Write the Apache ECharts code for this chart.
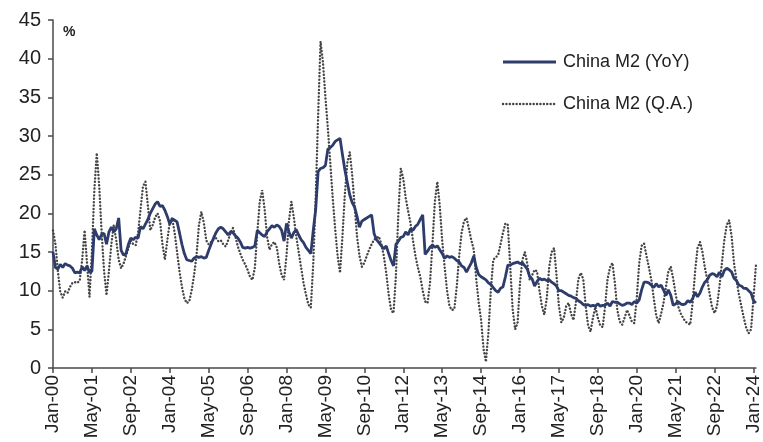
<!DOCTYPE html>
<html>
<head>
<meta charset="utf-8">
<style>
  html, body { margin: 0; padding: 0; background: #ffffff; }
  #chart { width: 763px; height: 442px; }
</style>
<script src="https://cdn.jsdelivr.net/npm/echarts@6/dist/echarts.min.js"></script>
</head>
<body>
<div id="chart"></div>
<script>
// Monthly axis labels, Jan-00 through Feb-24
const monthNames = ['Jan','Feb','Mar','Apr','May','Jun','Jul','Aug','Sep','Oct','Nov','Dec'];
const monthCount = 290;
const categories = [];
for (let i = 0; i < monthCount; i++) {
  const yy = String(Math.floor(i / 12)).padStart(2, '0');
  categories.push(monthNames[i % 12] + '-' + yy);
}

// China M2, year-on-year growth (%), one row per year
const m2YoY = [
  15.0, 13.0, 12.8, 13.4, 13.0, 13.5, 13.3, 13.2, 12.9, 12.3, 12.4, 12.3,
  13.1, 12.6, 13.2, 12.4, 12.5, 18.0, 17.2, 16.6, 17.3, 17.4, 16.0, 17.6,
  18.2, 17.6, 18.0, 19.4, 15.2, 14.6, 14.8, 16.0, 16.8, 16.6, 16.9, 16.8,
  18.3, 18.0, 18.6, 19.2, 20.0, 20.6, 21.2, 21.5, 20.9, 21.0, 20.4, 19.6,
  18.6, 19.3, 19.1, 18.9, 17.5, 16.0, 14.8, 14.0, 13.9, 13.8, 14.2, 14.4,
  14.3, 14.4, 14.2, 14.3, 15.2, 16.0, 16.8, 17.5, 18.0, 18.2, 18.0, 17.6,
  17.2, 17.6, 17.5, 17.1, 16.8, 16.3, 15.6, 15.5, 15.6, 15.5, 15.6, 15.8,
  17.8, 17.5, 17.2, 17.0, 17.6, 18.0, 18.4, 18.2, 18.5, 18.3, 17.8, 16.4,
  18.7, 17.6, 16.8, 17.5, 17.9, 17.2, 16.6, 16.2, 15.6, 15.2, 14.8, 17.8,
  20.5, 25.4, 25.8, 25.9, 26.2, 28.3, 28.5, 28.8, 29.3, 29.5, 29.7, 27.6,
  25.6, 24.0, 22.4, 21.4, 20.8, 19.6, 18.2, 19.0, 19.2, 19.4, 19.6, 19.8,
  17.4, 16.6, 16.2, 15.8, 15.4, 15.8, 14.8, 13.9, 13.2, 16.0, 16.4, 16.9,
  17.0, 17.6, 17.2, 18.0, 17.8, 18.3, 18.6, 19.2, 19.8, 14.7, 15.1, 15.6,
  15.9, 15.6, 15.8, 15.3, 14.8, 14.2, 14.5, 14.3, 14.4, 14.2, 13.9, 13.7,
  13.2, 13.0, 12.4, 13.0, 13.6, 14.5, 13.0, 12.1, 11.8, 11.6, 11.4, 11.0,
  10.8, 10.4, 10.0,  9.8, 10.3, 10.5, 11.8, 13.3, 13.3, 13.5, 13.6, 13.7,
  13.5, 13.6, 13.2, 12.8, 11.8, 11.5, 10.6, 11.2, 11.6, 11.4, 11.5, 11.3,
  11.4, 11.1, 10.9, 10.6, 10.0, 10.0,  9.8,  9.6,  9.4,  9.3,  9.1,  9.0,
   8.7,  8.5,  8.2,  8.1,  8.2,  8.0,  8.1,  8.0,  8.3,  8.0,  8.1,  8.1,
   8.4,  8.0,  8.6,  8.5,  8.5,  8.3,  8.1,  8.2,  8.4,  8.4,  8.2,  8.6,
   8.4,  8.8, 10.1, 11.1, 11.1, 11.0, 10.7, 10.4, 10.9, 10.5, 10.7, 10.1,
   9.4, 10.1,  9.4,  8.1,  8.3,  8.6,  8.3,  8.2,  8.3,  8.7,  8.5,  9.0,
   9.8,  9.2,  9.7, 10.5, 11.1, 11.4, 12.0, 12.2, 12.1, 11.8, 12.4, 11.8,
  12.6, 12.9, 12.7, 12.4, 11.6, 11.3, 10.7, 10.6, 10.3, 10.3, 10.0,  9.7,
   8.7,  8.4
];

// China M2, quarterly growth annualised (%), one row per year
const m2QA = [
  17.8, 16.0, 12.5,  9.8,  9.1,  9.9,  9.7, 10.5, 11.0, 11.1, 11.0, 11.3,
  14.0, 17.8, 13.5,  9.2, 15.0, 23.0, 27.8, 23.5, 17.5, 12.5,  9.4, 12.5,
  16.0, 18.5, 16.5, 14.0, 12.9, 13.5, 14.5, 15.5, 16.5, 16.0, 15.9, 17.5,
  20.5, 23.5, 24.1, 21.0, 17.8, 18.5, 19.5, 20.0, 19.0, 16.0, 14.0, 16.5,
  18.8, 19.4, 17.5, 15.0, 12.5, 10.5,  9.0,  8.4,  8.6, 10.0, 12.0, 14.5,
  18.5, 20.2, 18.8, 16.5, 16.0, 16.3, 16.6, 16.8, 16.4, 16.5, 16.0, 15.7,
  16.5, 17.5, 18.1, 17.0, 15.7, 14.8, 14.0, 13.4, 12.7, 11.8, 11.4, 13.0,
  17.5, 21.5, 23.0, 20.5, 17.0, 15.3, 16.0, 16.3, 15.6, 13.5, 12.0, 11.4,
  14.5, 19.0, 21.5, 19.5, 17.0, 15.0, 13.0, 11.0,  9.5,  8.2,  7.8, 13.5,
  22.0, 32.5, 42.2, 39.5, 35.0, 31.0, 26.5, 22.0, 18.0, 14.5, 12.3, 17.0,
  22.5, 26.5, 27.9, 25.0, 21.0, 17.0, 14.5, 13.1, 13.6, 14.5, 15.3, 16.0,
  16.6, 16.8, 17.0, 16.0, 14.5, 12.3,  9.5,  7.5,  7.1, 12.0, 20.0, 25.8,
  24.5, 22.0, 20.3, 18.7, 16.5, 14.5, 13.0, 11.8, 10.0,  8.6,  8.4, 11.0,
  16.0, 21.5, 24.1, 21.0, 16.5, 13.1, 10.0,  8.0,  7.5,  7.6, 10.5, 14.5,
  17.5, 19.0, 19.4, 18.0, 16.5, 15.3, 11.5,  8.5,  6.2,  2.5,  0.8,  4.5,
  10.0, 14.0, 14.3, 14.6, 16.0, 17.5, 18.7, 18.5, 13.0,  7.5,  5.0,  5.8,
  11.0, 14.0, 15.0, 13.5, 11.4, 12.0, 12.7, 12.5, 10.0,  8.0,  6.9,  9.0,
  13.0, 15.0, 15.5, 12.0,  8.0,  5.9,  6.5,  8.0,  8.4,  7.0,  6.2,  8.5,
  11.5, 12.3, 11.5,  8.0,  5.5,  4.7,  6.5,  7.9,  6.5,  5.5,  5.3,  8.0,
  11.5, 13.0, 13.6, 11.0,  7.5,  6.0,  5.6,  6.5,  7.5,  6.8,  6.0,  5.8,
   9.0, 13.5, 15.8, 16.1, 14.5, 13.0, 11.4,  9.0,  6.8,  5.8,  7.0,  8.4,
  10.5, 12.5, 13.1, 11.5,  9.5,  8.0,  7.1,  6.5,  6.0,  5.8,  5.6,  8.5,
  12.5, 15.5, 16.3, 15.0, 13.0, 11.4,  9.5,  7.8,  7.1,  8.0, 10.5, 13.5,
  16.5, 18.5, 19.1, 17.0, 13.5, 11.4,  9.5,  8.0,  6.5,  5.2,  4.5,  5.0,
   9.0, 13.3
];

const seriesNames = ['China M2 (YoY)', 'China M2 (Q.A.)'];
const yTicks = { min: 0, max: 45, interval: 5 };
const unitLabel = '%';

const textColor = '#222222';
const axisColor = '#4a4a4a';
const yoyColor = '#2d3c6b';
const qaColor = '#454545';
const qaDash = [0.1, 3.3];
const fontFamily = '"Liberation Sans", Arial, sans-serif';

const chart = echarts.init(document.getElementById('chart'), null, { renderer: 'canvas' });

// Key drawn as plain shapes so each sample matches its series' stroke
function keyEntry(y, name, stroke) {
  return [
    {
      type: 'line',
      shape: { x1: 503, y1: y, x2: 556, y2: y },
      style: stroke,
      silent: true
    },
    {
      type: 'text',
      x: 563,
      y: y,
      style: {
        text: name,
        fill: textColor,
        font: '18px ' + fontFamily,
        textVerticalAlign: 'middle',
        verticalAlign: 'middle'
      },
      silent: true
    }
  ];
}

chart.setOption({
  animation: false,
  backgroundColor: '#ffffff',
  grid: { left: 53, right: 2.5, top: 20, bottom: 74, containLabel: false },
  xAxis: {
    type: 'category',
    data: categories,
    boundaryGap: false,
    axisLine: { lineStyle: { color: axisColor, width: 1.5 } },
    axisTick: { interval: 15, length: 5, lineStyle: { color: axisColor, width: 1.5 } },
    axisLabel: {
      interval: 15,
      rotate: 90,
      margin: 7,
      color: textColor,
      fontSize: 19,
      fontFamily: fontFamily
    },
    splitLine: { show: false }
  },
  yAxis: {
    type: 'value',
    min: yTicks.min,
    max: yTicks.max,
    interval: yTicks.interval,
    axisLine: { show: true, lineStyle: { color: axisColor, width: 1.5 } },
    axisTick: { show: true, length: 5, lineStyle: { color: axisColor, width: 1.5 } },
    axisLabel: { margin: 12, color: textColor, fontSize: 20, fontFamily: fontFamily },
    splitLine: { show: false }
  },
  graphic: [
    {
      type: 'text',
      left: 63,
      top: 25,
      style: { text: unitLabel, fill: textColor, font: 'bold 14px ' + fontFamily }
    }
  ].concat(
    keyEntry(62, seriesNames[0], { stroke: yoyColor, lineWidth: 3 }),
    keyEntry(104, seriesNames[1], { stroke: qaColor, lineWidth: 2.4, lineDash: qaDash, lineCap: 'round' })
  ),
  series: [
    {
      name: seriesNames[1],
      type: 'line',
      data: m2QA,
      symbol: 'none',
      lineStyle: { color: qaColor, width: 2.4, type: qaDash, cap: 'round' },
      z: 2
    },
    {
      name: seriesNames[0],
      type: 'line',
      data: m2YoY,
      symbol: 'none',
      lineStyle: { color: yoyColor, width: 2.8 },
      z: 3
    }
  ]
});
</script>
</body>
</html>
